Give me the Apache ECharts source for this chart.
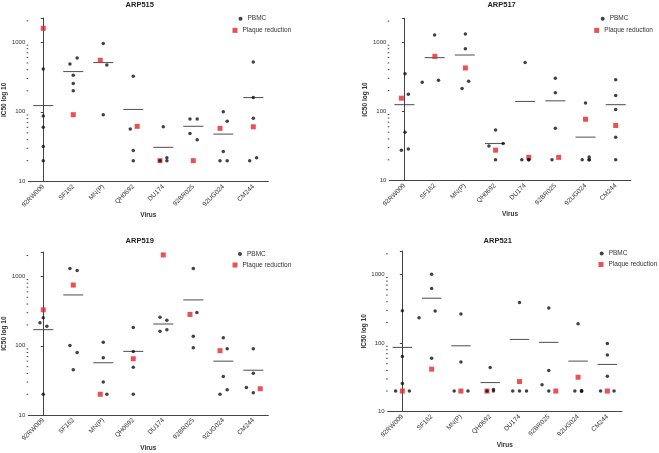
<!DOCTYPE html>
<html><head><meta charset="utf-8">
<script src="https://cdn.jsdelivr.net/npm/echarts@6/dist/echarts.min.js"></script>
<style>html,body{margin:0;padding:0;background:#fff}#c{width:659px;height:453px}</style>
</head><body><div id="c"></div>
<script>
// ---------- data ----------
const categories = ['92RW009', 'SF162', 'MN(P)', 'QH0692', 'DU174', '92BR025', '92UG024', 'CM244'];
const yTickValues = [10, 100, 1000];
const yMinorTickValues = [20, 30, 40, 50, 60, 70, 80, 90, 200, 300, 400, 500, 600, 700, 800, 900, 2000];
const panelTitles = ['ARP515', 'ARP517', 'ARP519', 'ARP521'];
const seriesNames = ['PBMC', 'Plaque reduction'];

// ARP515
const arp515Pbmc = [[411, 87, 60, 32, 20], [485, 590, 334, 254, 200], [947, 469, 91], [324, 57, 28, 20],
  [61, 22, 20, 20], [79, 79, 49, 40], [100, 73, 27, 20, 20], [518, 160, 81, 22, 20]];
const arp515PbmcJitter = [[0, 0, 0, 0, 0], [-0.11, 0.13, 0, 0, 0], [0, 0.12, 0], [0, -0.1, 0, 0],
  [0, 0.12, 0.12, -0.11], [-0.11, 0.13, -0.11, 0.13], [0, 0.13, 0, -0.11, 0.13], [0, 0, 0, 0.11, -0.12]];
const arp515Plaque = [1567, 91, 547, 62, 20, 20, 58, 61];
const arp515PlaqueJitter = [0, 0, -0.1, 0.13, -0.11, 0, -0.11, 0];
const arp515Mean = [123, 377, 507, 108, 31, 62, 48, 160];

// ARP517
const arp517Pbmc = [[350, 177, 50, 27.6, 28.6], [1260, 263, 281], [1303, 802, 213, 272], [31.6, 54, 34.4, 20],
  [505, 20, 20, 20], [300, 185, 57, 20], [132, 22, 20, 20, 20], [287, 169, 106, 42.5, 20]];
const arp517PbmcJitter = [[0.02, 0.13, 0.02, -0.1, 0.13], [0, -0.41, 0.13], [0.02, 0.02, -0.09, 0.13], [-0.2, 0.02, 0.27, 0.02],
  [0, -0.11, 0.12, 0.12], [0, 0, 0, -0.11], [0, 0.12, -0.11, 0.12, 0.12], [0, 0, 0, 0, 0]];
const arp517Plaque = [155, 622, 423, 27.6, 21.7, 21.7, 77, 62.5];
const arp517PlaqueJitter = [-0.1, 0.01, 0.02, 0.02, 0.12, 0.11, 0, 0];
const arp517Mean = [125, 596, 650, 34.4, 139, 142, 42.5, 125];

// ARP519
const arp519Pbmc = [[215, 254, 191, 20], [1300, 1219, 101, 80, 45], [112, 67, 30, 20], [183, 83, 49, 20],
  [257, 233, 162, 171], [1300, 303, 137, 93.5], [131, 90.6, 36, 23.3, 20], [90.6, 40.3, 25.1, 21.1]];
const arp519PbmcJitter = [[-0.11, 0, 0.12, 0], [-0.11, 0.13, -0.11, 0.13, 0], [0, 0, 0, 0.12], [0, 0, 0, 0],
  [-0.11, 0.12, -0.11, 0.12], [0, 0.12, 0, 0], [0, 0.13, 0, 0.13, -0.11], [0, 0, -0.23, 0]];
const arp519Plaque = [330, 751, 20, 65, 2042, 283, 85, 24];
const arp519PlaqueJitter = [0, 0, -0.1, 0, 0, -0.11, -0.11, 0.23];
const arp519Mean = [171, 541, 57, 83, 206, 459, 60, 44.4];

// ARP521
const arp521Pbmc = [[297, 64, 25.7, 20, 20], [1012, 624, 235, 294, 60], [266, 53, 20, 20], [44, 21, 20, 20],
  [389, 20, 20, 20], [325, 40, 24.8, 20], [192, 20, 20, 20, 20], [99, 67, 33, 20, 20]];
const arp521PbmcJitter = [[0, 0, 0, -0.23, 0.24], [0, 0, -0.43, 0.12, 0], [0, 0, -0.23, 0.24], [0, 0.11, 0.11, -0.11],
  [0, -0.23, 0, 0.24], [0, 0, -0.23, 0], [0, -0.11, 0.12, 0.12, 0.12], [0, 0, 0, -0.23, 0.23]];
const arp521Plaque = [20, 41.7, 20, 20, 27.5, 20, 31.8, 20];
const arp521PlaqueJitter = [0, 0, 0, -0.11, 0, 0.24, 0, 0];
const arp521Mean = [86.5, 451, 91.4, 26.6, 113, 102.4, 54.6, 48.8];

// ---------- layout ----------
const panels = [
  { pbmc: arp515Pbmc, pbmcJ: arp515PbmcJitter, plaque: arp515Plaque, plaqueJ: arp515PlaqueJitter, mean: arp515Mean },
  { pbmc: arp517Pbmc, pbmcJ: arp517PbmcJitter, plaque: arp517Plaque, plaqueJ: arp517PlaqueJitter, mean: arp517Mean },
  { pbmc: arp519Pbmc, pbmcJ: arp519PbmcJitter, plaque: arp519Plaque, plaqueJ: arp519PlaqueJitter, mean: arp519Mean },
  { pbmc: arp521Pbmc, pbmcJ: arp521PbmcJitter, plaque: arp521Plaque, plaqueJ: arp521PlaqueJitter, mean: arp521Mean }
];
const layouts = [
  { left: 26.7, top: 18, width: 241.6, height: 163.7, yMax: 2200, tl: 125.6, tt: 1.2, lp: [238.5, 15.2], lq: [232.5, 26.9], yg: 17.5, xg: 27, mw: 20 },
  { left: 389.3, top: 18.3, width: 241.5, height: 162.4, yMax: 2200, tl: 487.4, tt: 1.2, lp: [600.7, 15.2], lq: [594.2, 26.9], yg: 16.5, xg: 28, mw: 20 },
  { left: 26.7, top: 252, width: 241.6, height: 164.7, yMax: 2250, tl: 125.6, tt: 236.5, lp: [238, 250.5], lq: [232.5, 261.5], yg: 17.5, xg: 27, mw: 20 },
  { left: 387.7, top: 251, width: 234.3, height: 160.7, yMax: 2200, tl: 483.6, tt: 236.5, lp: [599.7, 250], lq: [598.5, 261], yg: 16.5, xg: 26.5, mw: 19.4 }
];

const FONT = 'Liberation Sans, Arial, sans-serif';
const AXIS_COLOR = '#444';
const TEXT_COLOR = '#333';
const RED = '#e3262b';

const option = { animation: false, backgroundColor: '#fff', title: [], legend: [], grid: [], xAxis: [], yAxis: [], series: [] };

panels.forEach((p, i) => {
  const L = layouts[i];
  option.title.push({ text: panelTitles[i], left: L.tl, top: L.tt, padding: 0,
    textStyle: { fontFamily: FONT, fontSize: 7.5, fontWeight: 'bold', color: '#222' } });
  option.legend.push({ data: [seriesNames[0]], left: L.lp[0], top: L.lp[1], padding: 0, orient: 'vertical',
    icon: 'circle', itemWidth: 4, itemHeight: 4, selectedMode: false,
    textStyle: { fontFamily: FONT, fontSize: 6.5, color: TEXT_COLOR } });
  option.legend.push({ data: [seriesNames[1]], left: L.lq[0], top: L.lq[1], padding: 0, orient: 'vertical',
    icon: 'rect', itemWidth: 5, itemHeight: 5, selectedMode: false,
    textStyle: { fontFamily: FONT, fontSize: 6.5, color: TEXT_COLOR } });
  option.grid.push({ left: L.left, top: L.top, width: L.width, height: L.height, containLabel: false });
  // category axis (labels, ticks, line)
  option.xAxis.push({ type: 'category', gridIndex: i, data: categories, boundaryGap: true,
    name: 'Virus', nameLocation: 'middle', nameGap: L.xg,
    nameTextStyle: { fontFamily: FONT, fontSize: 6.5, fontWeight: 'bold', color: TEXT_COLOR },
    axisLine: { lineStyle: { color: AXIS_COLOR, width: 1 } },
    axisTick: { alignWithLabel: true, length: 2.5, lineStyle: { color: AXIS_COLOR } },
    axisLabel: { rotate: 45, fontFamily: FONT, fontSize: 6.5, color: TEXT_COLOR, margin: 4, interval: 0 },
    splitLine: { show: false } });
  // hidden value axis for jittered points
  option.xAxis.push({ type: 'value', gridIndex: i, min: -0.5, max: 7.5, show: false, splitLine: { show: false } });
  option.yAxis.push({ type: 'log', logBase: 10, gridIndex: i, min: 10, max: L.yMax,
    name: 'IC50 log 10', nameLocation: 'middle', nameGap: L.yg,
    nameTextStyle: { fontFamily: FONT, fontSize: 6.5, fontWeight: 'bold', color: TEXT_COLOR },
    axisLine: { show: true, lineStyle: { color: AXIS_COLOR, width: 1 } },
    axisTick: { show: true, length: 2.5, lineStyle: { color: AXIS_COLOR } },
    axisLabel: { fontFamily: FONT, fontSize: 6, color: TEXT_COLOR, margin: 3,
      formatter: v => { const r = Math.round(v); return yTickValues.indexOf(r) >= 0 ? String(r) : ''; } },
    splitLine: { show: false } });

  const xi = 2 * i + 1;
  // minor ticks
  option.series.push({ type: 'custom', xAxisIndex: xi, yAxisIndex: i, silent: true, clip: false,
    data: yMinorTickValues.map(v => [-0.5, v]),
    renderItem: (params, api) => {
      const pt = api.coord([api.value(0), api.value(1)]);
      return { type: 'line', shape: { x1: pt[0] - 1.6, y1: pt[1], x2: pt[0], y2: pt[1] },
        style: { stroke: AXIS_COLOR, lineWidth: 1 } };
    } });
  // mean lines
  option.series.push({ type: 'scatter', name: 'mean', xAxisIndex: xi, yAxisIndex: i, silent: true,
    symbol: 'rect', symbolSize: [L.mw, 1.1], itemStyle: { color: '#333' },
    data: p.mean.map((v, c) => [c, v]) });
  // plaque reduction
  option.series.push({ type: 'scatter', name: seriesNames[1], xAxisIndex: xi, yAxisIndex: i,
    symbol: 'rect', symbolSize: 5, itemStyle: { color: RED },
    data: p.plaque.map((v, c) => [c + p.plaqueJ[c], v]) });
  // PBMC
  const pts = [];
  p.pbmc.forEach((arr, c) => arr.forEach((v, k) => pts.push([c + p.pbmcJ[c][k], v])));
  option.series.push({ type: 'scatter', name: seriesNames[0], xAxisIndex: xi, yAxisIndex: i,
    symbol: 'circle', symbolSize: 3.5, itemStyle: { color: '#111' }, data: pts });
});

const chart = echarts.init(document.getElementById('c'), null, { renderer: 'canvas' });
chart.setOption(option);
</script>
</body></html>
